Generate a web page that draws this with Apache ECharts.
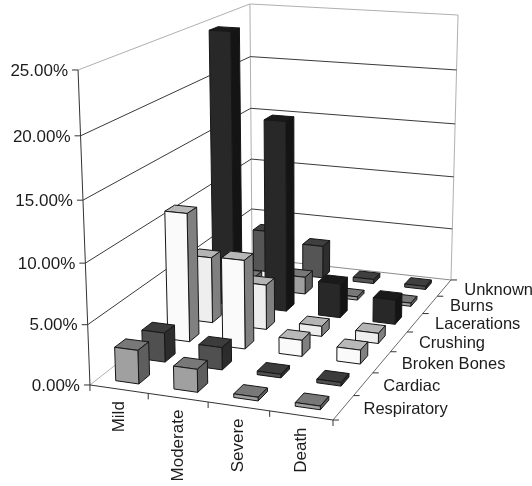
<!DOCTYPE html>
<html>
<head>
<meta charset="utf-8">
<style>
  html, body { margin: 0; padding: 0; background: #fff; }
  #chart { width: 532px; height: 486px; }
</style>
<script src="https://cdn.jsdelivr.net/npm/echarts@6/dist/echarts.min.js"></script>
</head>
<body>
<div id="chart"></div>
<script>
const severities = ["Mild", "Moderate", "Severe", "Death"];
const causes = ["Respiratory", "Cardiac", "Broken Bones", "Crushing", "Lacerations", "Burns", "Unknown"];
const percentTicks = [0, 5, 10, 15, 20, 25];
const percentLabels = ["0.00%", "5.00%", "10.00%", "15.00%", "20.00%", "25.00%"];

const respiratory = [2.8, 1.9, 0.3, 0.3];
const cardiac = [2.5, 1.9, 0.3, 0.3];
const brokenBones = [11.2, 7.7, 1.4, 1.2];
const crushing = [5.9, 4, 0.9, 0.9];
const lacerations = [24.7, 17.2, 3.1, 2.2];
const burns = [1, 1.6, 0.3, 0.3];
const unknown = [4, 3.1, 0.4, 0.3];
const causeValues = [respiratory, cardiac, brokenBones, crushing, lacerations, burns, unknown];

// front, top, side
const shades = [
  ["#a0a0a0", "#787878", "#5e5e5e"],
  ["#505050", "#3c3c3c", "#2c2c2c"],
  ["#fafafa", "#b8b8b8", "#808080"],
  ["#eeeeee", "#b4b4b4", "#808080"],
  ["#282828", "#1a1a1a", "#141414"],
  ["#a0a0a0", "#787878", "#5e5e5e"],
  ["#555555", "#3f3f3f", "#2e2e2e"]
];

const FONT = '17px "Liberation Sans", Arial, sans-serif';
const CAUSE_FONT = '16.5px "Liberation Sans", Arial, sans-serif';
const GRID = "#3a3a3a";
const EDGE = "#b0b0b0";

// box corners on the page: [x 0..1, depth 0..1, height 0..1, px, py]
const corners = [
  [0, 0, 0, 90, 385], [0, 0, 1, 78, 70],
  [0, 1, 0, 252, 258], [0, 1, 1, 250, 4],
  [1, 1, 0, 451, 280], [1, 1, 1, 458, 15],
  [1, 0, 0, 333, 420]
];

// least squares fit of the camera matrix from the corners
function fitCamera(pts) {
  const n = 11;
  const M = [];
  for (let i = 0; i < n; i++) M.push(new Array(n + 1).fill(0));
  const add = (row, b) => {
    for (let i = 0; i < n; i++) {
      for (let j = 0; j < n; j++) M[i][j] += row[i] * row[j];
      M[i][n] += row[i] * b;
    }
  };
  pts.forEach(([X, Y, Z, u, v]) => {
    add([X, Y, Z, 1, 0, 0, 0, 0, -u * X, -u * Y, -u * Z], u);
    add([0, 0, 0, 0, X, Y, Z, 1, -v * X, -v * Y, -v * Z], v);
  });
  for (let c = 0; c < n; c++) {
    let best = c;
    for (let r = c + 1; r < n; r++) if (Math.abs(M[r][c]) > Math.abs(M[best][c])) best = r;
    [M[c], M[best]] = [M[best], M[c]];
    for (let r = 0; r < n; r++) {
      if (r === c) continue;
      const f = M[r][c] / M[c][c];
      for (let k = c; k <= n; k++) M[r][k] -= f * M[c][k];
    }
  }
  return M.map((row, i) => row[n] / row[i]);
}

const cam = fitCamera(corners);
function project(x, d, z) {
  const w = cam[8] * x + cam[9] * d + cam[10] * z + 1;
  return [
    (cam[0] * x + cam[1] * d + cam[2] * z + cam[3]) / w,
    (cam[4] * x + cam[5] * d + cam[6] * z + cam[7]) / w
  ];
}

// axis scales give x and height as a share of the hidden grid
function toUnit(params, api, col, val) {
  const cs = params.coordSys;
  const c = api.coord([col, val]);
  return [(c[0] - cs.x) / cs.width, (cs.y + cs.height - c[1]) / cs.height, api.size([1, 0])[0] / cs.width];
}

function line(a, b, color, w) {
  return {
    type: "line",
    shape: { x1: a[0], y1: a[1], x2: b[0], y2: b[1] },
    style: { stroke: color, lineWidth: w || 1 }
  };
}

function label(text, x, y, align, rotation, font) {
  return {
    type: "text",
    x: x, y: y, rotation: rotation || 0,
    style: { text: text, x: 0, y: 0, font: font || FONT, fill: "#1c1c1c", align: align, verticalAlign: "middle" }
  };
}

function renderFrame() {
  const A = project(0, 0, 0), B = project(0, 1, 0), C = project(1, 0, 0), D = project(1, 1, 0);
  const At = project(0, 0, 1), Bt = project(0, 1, 1), Dt = project(1, 1, 1);
  return {
    type: "group",
    children: [
      line(A, B, EDGE), line(B, D, "#8c8c8c"),
      line(At, Bt, EDGE), line(Bt, Dt, EDGE),
      line(B, Bt, EDGE), line(D, Dt, EDGE),
      line(A, At, "#333333"), line(A, C, "#333333"), line(C, D, "#6a6a6a")
    ]
  };
}

function renderPercentTick(params, api) {
  const i = params.dataIndex;
  const z = toUnit(params, api, 0, api.value(0))[1];
  const a = project(0, 0, z), b = project(0, 1, z), d = project(1, 1, z);
  const kids = [line([a[0] - 6, a[1]], a, "#333333"), label(percentLabels[i], a[0] - 10, a[1] + 1, "right")];
  if (i > 0 && i < percentTicks.length - 1) kids.push(line(a, b, GRID), line(b, d, GRID));
  return { type: "group", children: kids };
}

function renderSeverityTick(params, api) {
  const col = api.value(0);
  const u = toUnit(params, api, col, 0);
  const edge = project(u[0] + u[2] / 2, 0, 0);
  const mid = project(u[0], 0, 0);
  const kids = [line(edge, [edge[0], edge[1] + 6], "#333333"), label(severities[col], mid[0], mid[1] + 12, "right", Math.PI / 2)];
  if (col === 0) {
    const start = project(0, 0, 0);
    kids.push(line(start, [start[0], start[1] + 6], "#333333"));
  }
  return { type: "group", children: kids };
}

function renderCauseTick(params, api) {
  const i = params.dataIndex;
  const n = causes.length;
  const edge = project(1, (i + 1) / n, 0);
  const first = project(1, i / n, 0);
  const mid = project(1, (i + 0.5) / n, 0);
  const kids = [line(first, [first[0] + 6, first[1]], "#333333"), label(causes[i], mid[0] + 20, mid[1] + 2, "left", 0, CAUSE_FONT)];
  if (i === n - 1) kids.push(line(edge, [edge[0] + 6, edge[1]], "#333333"));
  return { type: "group", children: kids };
}

function renderBar(params, api) {
  const col = api.value(0);
  const row = api.value(2);
  const u = toUnit(params, api, col, api.value(1));
  const halfX = u[2] * 0.2;
  const cell = 1 / causes.length;
  const d0 = (row + 0.3) * cell, d1 = (row + 0.7) * cell;
  const x0 = u[0] - halfX, x1 = u[0] + halfX, z = u[1];
  const face = (pts, fill) => ({
    type: "polygon",
    shape: { points: pts },
    style: { fill: fill, stroke: "#161616", lineWidth: 1 }
  });
  const s = shades[row];
  return {
    type: "group",
    children: [
      face([project(x0, d0, z), project(x1, d0, z), project(x1, d1, z), project(x0, d1, z)], s[1]),
      face([project(x1, d0, 0), project(x1, d1, 0), project(x1, d1, z), project(x1, d0, z)], s[2]),
      face([project(x0, d0, 0), project(x1, d0, 0), project(x1, d0, z), project(x0, d0, z)], s[0])
    ]
  };
}

// back rows first, left to right inside a row
const barData = [];
for (let r = causes.length - 1; r >= 0; r--) {
  severities.forEach((s, c) => barData.push([c, causeValues[r][c], r]));
}

const chart = echarts.init(document.getElementById("chart"));
chart.setOption({
  animation: false,
  backgroundColor: "#fff",
  grid: { left: 0, top: 0, width: 400, height: 400 },
  xAxis: { type: "category", data: severities, show: false },
  yAxis: { type: "value", min: 0, max: 25, interval: 5, show: false },
  series: [
    { type: "custom", clip: false, silent: true, data: [[0, 0]], renderItem: renderFrame, z: 1 },
    { type: "custom", clip: false, silent: true, data: percentTicks.map(v => [v]), encode: { y: 0 }, renderItem: renderPercentTick, z: 2 },
    { type: "custom", clip: false, silent: true, data: severities.map((s, i) => [i]), encode: { x: 0 }, renderItem: renderSeverityTick, z: 2 },
    { type: "custom", clip: false, silent: true, data: causes.map((s, i) => [i]), encode: { x: 0 }, renderItem: renderCauseTick, z: 2 },
    { type: "custom", clip: false, silent: true, data: barData, encode: { x: 0, y: 1 }, renderItem: renderBar, z: 3 }
  ]
});
</script>
</body>
</html>
